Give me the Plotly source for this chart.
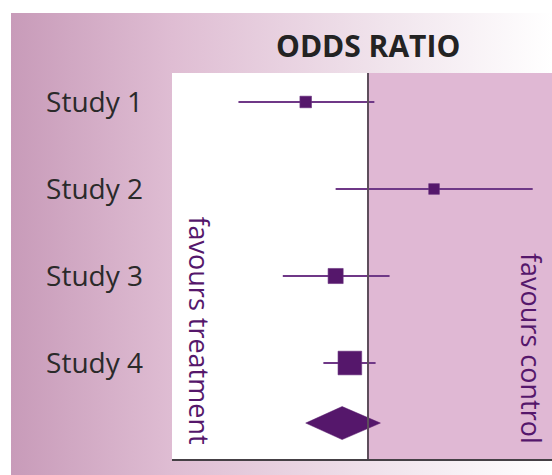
import base64
import numpy as np
import plotly.graph_objects as go

# Forest plot data: odds ratios with 95% confidence intervals
studies = ["Study 1", "Study 2", "Study 3", "Study 4"]
odds_ratio = [0.62, 1.66, 0.78, 0.87]
ci_low = [0.37, 0.78, 0.52, 0.71]
ci_high = [1.05, 3.54, 1.18, 1.06]
weight_pct = [13, 11, 22, 54]

pooled_or = 0.82
pooled_low = 0.62
pooled_high = 1.10

title_text = "ODDS RATIO"
left_label = "favours treatment"
right_label = "favours control"

# log10 scale for the horizontal axis
x_est = np.log10(odds_ratio)
x_lo = np.log10(ci_low)
x_hi = np.log10(ci_high)
px_lo, px_est, px_hi = np.log10([pooled_low, pooled_or, pooled_high])

row_y = [1, 2, 3, 4]
pooled_y = 4.69
x_range = [-0.6533, 0.6133]
y_range = [5.103, 0.667]

MARK = "#55176b"
WHISKER = "#6f3887"
FONT = "Open Sans"

fig = go.Figure()

# confidence interval whiskers
for y, lo, hi in zip(row_y, x_lo, x_hi):
    fig.add_trace(go.Scatter(
        x=[lo, hi], y=[y, y], mode="lines",
        line=dict(color=WHISKER, width=2), hoverinfo="skip", showlegend=False))

# point estimates, square area proportional to weight
fig.add_trace(go.Scatter(
    x=x_est, y=row_y, mode="markers",
    marker=dict(symbol="square", color=MARK, opacity=1,
                size=[3.22 * np.sqrt(w) for w in weight_pct],
                line=dict(color="#6a3380", width=0.6)),
    showlegend=False))

# pooled estimate diamond
half_h = 0.19
fig.add_trace(go.Scatter(
    x=[px_lo, px_est, px_hi, px_est, px_lo],
    y=[pooled_y, pooled_y - half_h, pooled_y, pooled_y + half_h, pooled_y],
    mode="lines", fill="toself", fillcolor=MARK,
    line=dict(color=MARK, width=0.5), showlegend=False))

# horizontal gradient panel behind the chart
svg = (
    '<svg xmlns="http://www.w3.org/2000/svg" width="100" height="100" '
    'preserveAspectRatio="none">'
    '<defs><linearGradient id="g" x1="0" y1="0" x2="1" y2="0">'
    '<stop offset="0" stop-color="#c89bb9"/>'
    '<stop offset="0.3" stop-color="#dfbdd3"/>'
    '<stop offset="0.7" stop-color="#f1e5ed"/>'
    '<stop offset="1" stop-color="#ffffff"/>'
    '</linearGradient></defs>'
    '<rect width="100" height="100" fill="url(#g)"/></svg>'
)
svg_uri = "data:image/svg+xml;base64," + base64.b64encode(svg.encode()).decode()

W, H = 552, 475
ml, mr, mt, mb = 172, 0, 73, 16
pw, ph = W - ml - mr, H - mt - mb

fig.add_layout_image(dict(
    source=svg_uri, xref="paper", yref="paper",
    x=(11 - ml) / pw, y=1 + (mt - 13) / ph,
    sizex=(W - 11) / pw, sizey=(H - 13) / ph,
    xanchor="left", yanchor="top", sizing="stretch", layer="below"))

# white (treatment) and pink (control) halves of the plotting area
fig.add_shape(type="rect", xref="x", yref="y", x0=x_range[0], x1=0,
              y0=y_range[0], y1=y_range[1], fillcolor="white",
              line_width=0, layer="below")
fig.add_shape(type="rect", xref="x", yref="y", x0=0, x1=x_range[1],
              y0=y_range[0], y1=y_range[1], fillcolor="#e0b8d4",
              line_width=0, layer="below")
# line of no effect (OR = 1)
fig.add_shape(type="line", xref="x", yref="y", x0=0, x1=0,
              y0=y_range[0], y1=y_range[1],
              line=dict(color="#5e4e5c", width=2), layer="above")

fig.add_annotation(text="<b>" + title_text + "</b>", xref="x", yref="paper",
                   x=0, y=1 + (mt - 46) / ph, xanchor="center", yanchor="middle",
                   showarrow=False, font=dict(family=FONT, size=30, color="#232323"))
fig.add_annotation(text=left_label, textangle=90, xref="x domain", yref="y domain",
                   x=0, y=0, xanchor="left", yanchor="bottom", xshift=7, yshift=13,
                   showarrow=False, font=dict(family=FONT, size=27, color=MARK))
fig.add_annotation(text=right_label, textangle=90, xref="x domain", yref="y domain",
                   x=1, y=0, xanchor="right", yanchor="bottom", xshift=0, yshift=13,
                   showarrow=False, font=dict(family=FONT, size=27, color=MARK))

fig.update_xaxes(range=x_range, showgrid=False, zeroline=False, showticklabels=False,
                 ticks="", showline=True, linecolor="#454045", linewidth=2, fixedrange=True)
fig.update_yaxes(range=y_range, tickvals=row_y, ticktext=studies, showgrid=False,
                 zeroline=False, ticks="", showline=False, ticklabelstandoff=28,
                 tickfont=dict(family=FONT, size=28, color="#2a2a2a"), fixedrange=True)

fig.update_layout(
    width=W, height=H,
    margin=dict(l=ml, r=mr, t=mt, b=mb),
    paper_bgcolor="white", plot_bgcolor="rgba(0,0,0,0)",
    showlegend=False,
)

fig.write_html("out.html")
